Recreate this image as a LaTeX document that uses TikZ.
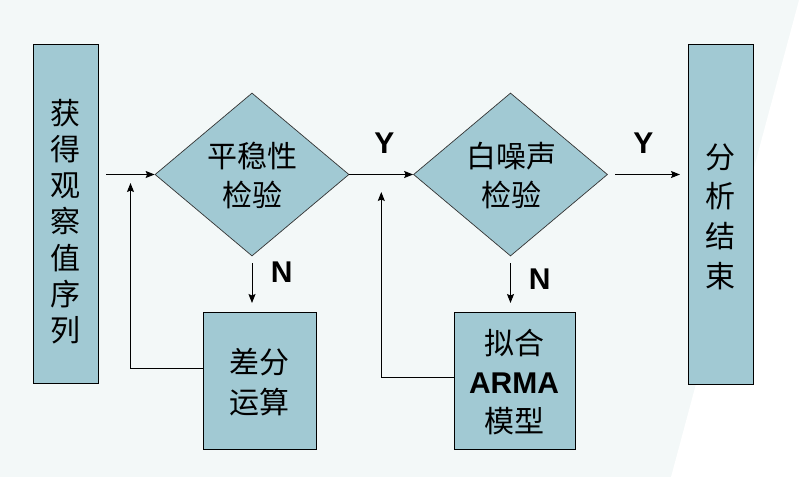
\documentclass[tikz,border=0pt]{standalone}
\usepackage{fontspec}
\setmainfont{Liberation Sans}
\newfontfamily\cjk{Noto Sans CJK SC}
\usetikzlibrary{shapes.geometric,arrows.meta}
\definecolor{boxfill}{RGB}{161,201,211}
\definecolor{bgcol}{RGB}{243,248,248}
\tikzset{
  procbox/.style={draw=black,line width=0.9pt,fill=boxfill,inner sep=0pt},
  decbox/.style={draw=black!80,line width=0.7pt,fill=boxfill,diamond,inner sep=0pt,aspect=1.2},
  cjktext/.style={font=\cjk\fontsize{30}{39}\selectfont,align=center,inner sep=0pt},
  yn/.style={font=\bfseries\fontsize{30}{30}\selectfont,inner sep=0pt},
  flow/.style={line width=0.9pt,-{Stealth[length=9pt,width=7pt,inset=1.5pt]}},
}
\begin{document}
\begin{tikzpicture}[x=1pt,y=-1pt]
\useasboundingbox (0,0) rectangle (806,477);
\fill[bgcol] (0,0) rectangle (806,477);
\fill[white] (799,0) -- (806,0) -- (806,477) -- (671,477) -- cycle;

% left and right tall boxes
\node[procbox,minimum width=65pt,minimum height=339pt] (obs) at (65.8,213.9) {};
\node[cjktext,font=\cjk\fontsize{30}{36.2}\selectfont] (obst) at (65.8,221.5) {获\\得\\观\\察\\值\\序\\列};
\node[procbox,minimum width=65pt,minimum height=340pt] (res) at (721,214.3) {};
\node[cjktext,font=\cjk\fontsize{30}{39.7}\selectfont] (rest) at (720,216.5) {分\\析\\结\\束};

% diamonds
\node[decbox,minimum width=194pt,minimum height=163pt] (d1) at (252,174.5) {};
\node[cjktext] (d1t) at (252,175.5) {平稳性\\检验};
\node[decbox,minimum width=194pt,minimum height=163pt] (d2) at (510.5,174.5) {};
\node[cjktext] (d2t) at (511,175.5) {白噪声\\检验};

% lower boxes
\node[procbox,minimum width=113pt,minimum height=137pt] (b1) at (259.8,380.5) {};
\node[cjktext,font=\cjk\fontsize{30}{40}\selectfont] (b1t) at (259.5,382) {差分\\运算};
\node[procbox,minimum width=121pt,minimum height=137pt] (b2) at (514.6,380.5) {};
\node[cjktext] (b2t) at (514,382) {拟合\\{\rmfamily\bfseries\fontsize{30}{39}\selectfont ARMA}\\模型};

% coordinates
\coordinate (in) at (106.4,174.5);
\coordinate (out) at (615,174.5);
\coordinate (outend) at (680,174.5);
\coordinate (n1s) at (252,263);
\coordinate (n1e) at (252,303);
\coordinate (n2s) at (510.5,263);
\coordinate (n2e) at (510.5,303);
\coordinate (f1) at (130.5,183);
\coordinate (f2) at (381.3,192);

% connectors
\draw[flow] (in) -- (d1.west);
\draw[flow] (d1.east) -- (d2.west);
\draw[flow] (out) -- (outend);
\draw[flow] (n1s) -- (n1e);
\draw[flow] (n2s) -- (n2e);
\draw[flow] (b1.west |- 0,368) -| (f1);
\draw[flow] (b2.west |- 0,377) -| (f2);

% labels
\node[yn] (y1) at (384.4,143) {Y};
\node[yn] (y2) at (643.4,143) {Y};
\node[yn] (n1) at (281.6,272) {N};
\node[yn] (n2) at (539.6,279) {N};
\end{tikzpicture}
\end{document}
